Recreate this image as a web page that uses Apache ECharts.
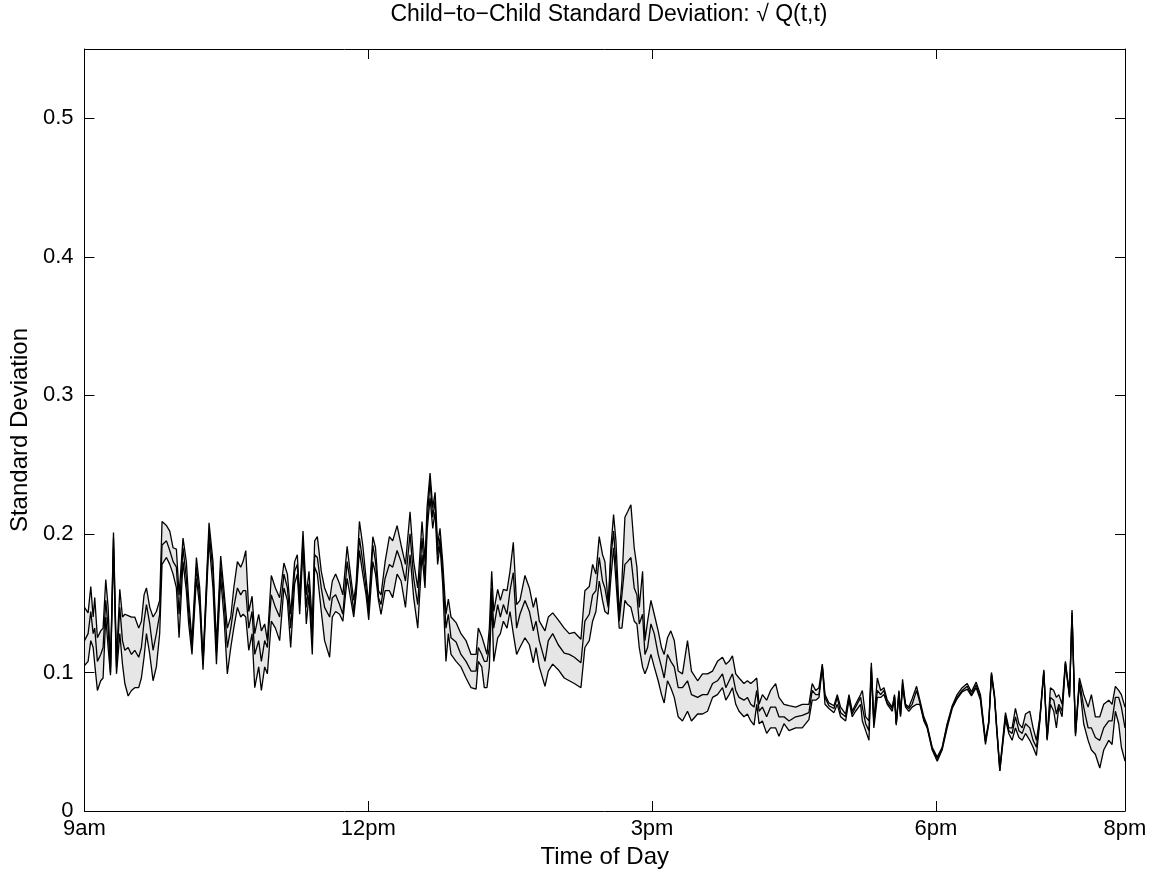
<!DOCTYPE html>
<html>
<head>
<meta charset="utf-8">
<title>Child-to-Child Standard Deviation</title>
<script src="https://cdn.jsdelivr.net/npm/echarts@6/dist/echarts.min.js"></script>
<style>
  html, body { margin: 0; padding: 0; background: #fff; }
  #chart { width: 1166px; height: 875px; }
</style>
</head>
<body>
<div id="chart"></div>
<script>
// minutes after 9am
const minutes = [
  0, 2.3, 4.0, 5.5, 6.5, 8.2, 10.3, 11.8, 13.5, 15.0, 16.5, 18.4, 20.3, 22.4, 24.1, 25.6, 27.7, 29.8, 31.9, 34.4, 36.1, 37.8, 39.3, 41.4, 43.5, 45.6, 47.7, 49.2, 52.0, 54.1, 56.2, 58.3, 60.0, 62.5, 64.6, 66.1, 68.2, 71.0, 73.1, 75.2, 79.0, 81.5,
  83.7, 86.4, 88.5, 90.6, 92.8, 94.7, 97.0, 99.1, 100.6, 102.3, 104.2, 106.3, 108.0, 110.5, 112.2, 114.3, 116.0, 118.5, 121.1, 123.8, 126.5, 128.7, 130.8, 133.3, 135.0, 136.5, 138.6, 140.7, 142.4, 144.5, 146.0, 147.7, 150.2, 152.3, 155.5, 157.2, 159.3, 161.8, 163.9,
  166.6, 168.7, 170.8, 172.3, 174.4, 176.5, 178.6, 180.3, 182.9, 184.6, 186.5, 188.1, 190.7, 193.4, 195.5, 198.3, 200.8, 203.6, 206.5, 208.8, 211.4, 214.1, 216.0, 217.3, 219.2, 220.9, 222.4, 224.0, 225.5, 227.2, 229.3, 230.8, 232.5, 235.7, 238.8, 242.0, 245.2,
  248.4, 249.8, 252.0, 253.6, 255.3, 256.8, 258.3, 259.6, 262.1, 263.8, 265.7, 268.0, 269.9, 272.0, 274.1, 276.2, 279.4, 282.2, 284.7, 286.4, 288.5, 292.1, 294.2, 297.0, 300.5, 304.3, 307.5, 310.7, 314.9, 317.4, 320.2, 322.3, 324.4, 326.5, 328.6,
  330.1, 332.2, 333.9, 335.6, 337.1, 339.2, 340.9, 342.8, 344.5, 346.6, 348.7, 350.4, 351.9, 354.0, 355.5, 357.2, 359.3, 361.4, 363.9, 366.0, 367.7, 369.8, 371.9, 374.1, 376.6, 379.3, 382.5, 385.0, 388.9, 392.0, 395.2, 398.4, 401.5, 404.7, 406.8, 408.9, 411.0,
  413.1, 415.2, 418.3, 420.5, 422.6, 424.7, 426.4, 427.9, 430.0, 432.7, 435.2, 438.4, 440.5, 443.7, 446.9, 451.1, 455.3, 459.5, 461.6, 463.8, 465.9, 468.0, 469.7, 472.2, 475.4, 477.5, 479.6, 482.8, 484.9, 487.0, 489.1, 492.3,
  493.4, 495.5, 497.6, 499.1, 500.7, 502.9, 505.0, 507.1, 509.2, 512.4, 513.8, 514.9, 516.6, 517.6, 518.9, 520.8, 522.9, 525.0, 527.8, 529.9, 532.4, 534.5, 537.7, 540.9, 544.0, 547.2, 550.4, 553.5, 556.7, 559.9, 562.6, 565.6, 568.3, 571.5, 573.6, 575.3,
  577.2, 578.5, 580.6, 584.2, 586.3, 588.4, 590.5, 592.7, 594.8, 596.9, 599.6, 601.7, 603.8, 606.0, 608.5, 610.6, 612.7, 614.8, 616.5, 618.0, 620.1, 622.2, 624.8, 626.4, 628.6, 631.1, 633.8, 636.6, 638.7, 641.2, 644.0, 646.5, 649.7, 651.8, 653.9, 656.0, 657.7, 660
]

const upper = [
  0.147, 0.143, 0.162, 0.140, 0.154, 0.125, 0.130, 0.132, 0.167, 0.147, 0.104, 0.201, 0.108, 0.160, 0.140, 0.142, 0.141, 0.140, 0.140, 0.132, 0.137, 0.156, 0.161, 0.147, 0.140, 0.144, 0.152, 0.209, 0.206, 0.202, 0.190, 0.189, 0.156, 0.197, 0.180, 0.152, 0.123, 0.183, 0.161, 0.108, 0.208, 0.180,
  0.120, 0.184, 0.159, 0.132, 0.140, 0.161, 0.180, 0.176, 0.180, 0.188, 0.144, 0.155, 0.128, 0.142, 0.130, 0.135, 0.123, 0.170, 0.161, 0.154, 0.179, 0.171, 0.142, 0.180, 0.185, 0.154, 0.202, 0.156, 0.173, 0.135, 0.195, 0.198, 0.173, 0.161, 0.152, 0.166, 0.171, 0.164, 0.156,
  0.191, 0.171, 0.152, 0.164, 0.209, 0.192, 0.168, 0.149, 0.198, 0.190, 0.159, 0.156, 0.180, 0.198, 0.195, 0.206, 0.192, 0.178, 0.216, 0.180, 0.161, 0.209, 0.180, 0.219, 0.244, 0.219, 0.230, 0.192, 0.204, 0.180, 0.142, 0.153, 0.140, 0.136, 0.128, 0.123, 0.113,
  0.113, 0.132, 0.126, 0.120, 0.113, 0.132, 0.173, 0.144, 0.160, 0.152, 0.160, 0.159, 0.173, 0.194, 0.149, 0.152, 0.170, 0.161, 0.147, 0.154, 0.137, 0.130, 0.140, 0.143, 0.138, 0.132, 0.128, 0.129, 0.124, 0.159, 0.162, 0.178, 0.171, 0.198, 0.185,
  0.180, 0.149, 0.190, 0.214, 0.195, 0.142, 0.166, 0.212, 0.216, 0.221, 0.190, 0.176, 0.147, 0.173, 0.123, 0.137, 0.152, 0.142, 0.130, 0.118, 0.113, 0.125, 0.130, 0.123, 0.101, 0.099, 0.123, 0.101, 0.094, 0.099, 0.099, 0.101, 0.108, 0.111, 0.106, 0.108, 0.112,
  0.099, 0.096, 0.092, 0.094, 0.092, 0.094, 0.096, 0.077, 0.084, 0.080, 0.087, 0.092, 0.082, 0.077, 0.076, 0.075, 0.077, 0.077, 0.092, 0.087, 0.089, 0.106, 0.084, 0.078, 0.076, 0.084, 0.075, 0.070, 0.084, 0.072, 0.077, 0.084,
  0.087, 0.068, 0.065, 0.107, 0.065, 0.096, 0.087, 0.089, 0.080, 0.075, 0.084, 0.063, 0.087, 0.070, 0.095, 0.077, 0.075, 0.081, 0.090, 0.080, 0.068, 0.062, 0.046, 0.039, 0.046, 0.063, 0.076, 0.084, 0.089, 0.092, 0.086, 0.093, 0.084, 0.051, 0.065, 0.100,
  0.084, 0.063, 0.031, 0.071, 0.060, 0.060, 0.074, 0.063, 0.060, 0.070, 0.072, 0.060, 0.051, 0.068, 0.102, 0.053, 0.089, 0.087, 0.082, 0.084, 0.077, 0.108, 0.084, 0.145, 0.056, 0.096, 0.084, 0.075, 0.084, 0.068, 0.068, 0.077, 0.080, 0.077, 0.090, 0.087, 0.084, 0.075
]

const middle = [
  0.123, 0.128, 0.144, 0.128, 0.132, 0.108, 0.113, 0.118, 0.152, 0.132, 0.100, 0.197, 0.104, 0.147, 0.123, 0.116, 0.118, 0.113, 0.116, 0.111, 0.118, 0.137, 0.149, 0.135, 0.116, 0.128, 0.142, 0.192, 0.195, 0.188, 0.180, 0.176, 0.142, 0.190, 0.168, 0.144, 0.118, 0.176, 0.154, 0.106, 0.202, 0.173,
  0.115, 0.176, 0.152, 0.118, 0.132, 0.147, 0.161, 0.156, 0.159, 0.159, 0.132, 0.144, 0.113, 0.123, 0.108, 0.123, 0.118, 0.156, 0.147, 0.140, 0.171, 0.161, 0.132, 0.173, 0.178, 0.149, 0.195, 0.147, 0.164, 0.123, 0.185, 0.183, 0.161, 0.147, 0.140, 0.154, 0.156, 0.149, 0.142,
  0.180, 0.164, 0.144, 0.161, 0.197, 0.180, 0.161, 0.144, 0.192, 0.180, 0.154, 0.149, 0.168, 0.178, 0.176, 0.188, 0.180, 0.166, 0.200, 0.168, 0.149, 0.197, 0.168, 0.209, 0.238, 0.212, 0.224, 0.185, 0.197, 0.173, 0.132, 0.142, 0.125, 0.122, 0.113, 0.108, 0.101,
  0.101, 0.118, 0.113, 0.108, 0.108, 0.118, 0.161, 0.132, 0.149, 0.140, 0.149, 0.142, 0.159, 0.172, 0.132, 0.142, 0.152, 0.144, 0.130, 0.137, 0.123, 0.108, 0.123, 0.128, 0.120, 0.114, 0.113, 0.111, 0.107, 0.137, 0.142, 0.156, 0.159, 0.183, 0.166,
  0.161, 0.147, 0.183, 0.202, 0.178, 0.137, 0.156, 0.178, 0.180, 0.183, 0.161, 0.156, 0.135, 0.142, 0.113, 0.118, 0.135, 0.128, 0.113, 0.104, 0.096, 0.113, 0.108, 0.104, 0.089, 0.089, 0.094, 0.084, 0.082, 0.084, 0.084, 0.092, 0.094, 0.099, 0.089, 0.094, 0.099,
  0.087, 0.082, 0.080, 0.082, 0.077, 0.075, 0.087, 0.072, 0.075, 0.068, 0.075, 0.075, 0.068, 0.068, 0.065, 0.068, 0.069, 0.071, 0.087, 0.084, 0.084, 0.105, 0.082, 0.076, 0.074, 0.082, 0.071, 0.068, 0.082, 0.070, 0.075, 0.082,
  0.075, 0.063, 0.058, 0.104, 0.063, 0.087, 0.084, 0.087, 0.078, 0.074, 0.083, 0.063, 0.086, 0.069, 0.092, 0.076, 0.074, 0.077, 0.087, 0.078, 0.066, 0.061, 0.045, 0.038, 0.045, 0.062, 0.075, 0.082, 0.087, 0.090, 0.084, 0.091, 0.082, 0.050, 0.064, 0.099,
  0.083, 0.062, 0.029, 0.069, 0.058, 0.056, 0.068, 0.058, 0.056, 0.063, 0.060, 0.051, 0.046, 0.066, 0.101, 0.052, 0.082, 0.080, 0.070, 0.077, 0.072, 0.107, 0.083, 0.143, 0.056, 0.094, 0.075, 0.060, 0.060, 0.053, 0.051, 0.060, 0.065, 0.065, 0.082, 0.082, 0.075, 0.060
]

const lower = [
  0.105, 0.108, 0.123, 0.118, 0.106, 0.087, 0.094, 0.096, 0.140, 0.118, 0.098, 0.190, 0.099, 0.128, 0.106, 0.092, 0.083, 0.087, 0.089, 0.089, 0.096, 0.111, 0.128, 0.113, 0.094, 0.104, 0.128, 0.178, 0.183, 0.178, 0.171, 0.161, 0.125, 0.180, 0.159, 0.135, 0.113, 0.168, 0.147, 0.102, 0.195, 0.161,
  0.106, 0.168, 0.140, 0.099, 0.118, 0.132, 0.147, 0.140, 0.142, 0.140, 0.116, 0.128, 0.089, 0.104, 0.087, 0.104, 0.099, 0.137, 0.132, 0.123, 0.161, 0.152, 0.118, 0.164, 0.171, 0.142, 0.190, 0.135, 0.156, 0.113, 0.176, 0.171, 0.144, 0.123, 0.111, 0.140, 0.144, 0.142, 0.137,
  0.168, 0.154, 0.140, 0.156, 0.188, 0.171, 0.156, 0.138, 0.180, 0.171, 0.152, 0.142, 0.159, 0.159, 0.154, 0.171, 0.166, 0.147, 0.185, 0.154, 0.132, 0.185, 0.161, 0.202, 0.226, 0.204, 0.216, 0.178, 0.192, 0.164, 0.108, 0.128, 0.113, 0.108, 0.104, 0.096, 0.089,
  0.088, 0.108, 0.104, 0.089, 0.089, 0.104, 0.152, 0.108, 0.125, 0.128, 0.137, 0.132, 0.144, 0.128, 0.113, 0.118, 0.125, 0.120, 0.107, 0.118, 0.104, 0.090, 0.101, 0.106, 0.102, 0.096, 0.094, 0.092, 0.089, 0.118, 0.123, 0.137, 0.144, 0.166, 0.152,
  0.144, 0.142, 0.168, 0.190, 0.166, 0.132, 0.132, 0.152, 0.149, 0.147, 0.137, 0.135, 0.118, 0.104, 0.099, 0.104, 0.113, 0.104, 0.094, 0.084, 0.078, 0.094, 0.089, 0.082, 0.068, 0.065, 0.072, 0.065, 0.070, 0.070, 0.072, 0.082, 0.084, 0.089, 0.080, 0.084, 0.089,
  0.077, 0.072, 0.068, 0.070, 0.065, 0.062, 0.077, 0.063, 0.065, 0.056, 0.060, 0.060, 0.054, 0.063, 0.058, 0.060, 0.060, 0.066, 0.080, 0.080, 0.082, 0.104, 0.077, 0.074, 0.071, 0.077, 0.068, 0.065, 0.080, 0.068, 0.072, 0.077,
  0.065, 0.058, 0.051, 0.101, 0.060, 0.082, 0.082, 0.084, 0.077, 0.072, 0.082, 0.062, 0.084, 0.068, 0.089, 0.075, 0.072, 0.075, 0.077, 0.077, 0.065, 0.060, 0.044, 0.036, 0.044, 0.060, 0.074, 0.081, 0.086, 0.088, 0.083, 0.089, 0.080, 0.048, 0.063, 0.098,
  0.082, 0.060, 0.029, 0.066, 0.056, 0.051, 0.060, 0.053, 0.051, 0.056, 0.051, 0.046, 0.040, 0.065, 0.100, 0.051, 0.077, 0.072, 0.060, 0.075, 0.068, 0.106, 0.082, 0.141, 0.054, 0.092, 0.063, 0.051, 0.044, 0.041, 0.031, 0.044, 0.051, 0.048, 0.072, 0.063, 0.046, 0.036
]

const xTicks = [0, 180, 360, 540, 660]
const xTickLabels = ["9am", "12pm", "3pm", "6pm", "8pm"]
const yTicks = [0, 0.1, 0.2, 0.3, 0.4, 0.5]

const font = "'Liberation Sans', Arial, Helvetica, sans-serif"

const pairs = (vals) => minutes.map((m, i) => [m, vals[i]])

// box frame, ticks pointing inward on all four sides
const tick = (vals) => ({ show: true, inside: true, length: 10, customValues: vals, lineStyle: { color: "#000", width: 1 } })
const frameAxis = {
  z: 10,
  axisLine: { show: true, onZero: false, lineStyle: { color: "#000", width: 1 } },
  splitLine: { show: false }
}

const chart = echarts.init(document.getElementById("chart"))
chart.setOption({
  animation: false,
  backgroundColor: "#fff",
  title: {
    text: "Child\u2212to\u2212Child Standard Deviation: \u221A Q(t,t)",
    left: 604,
    textAlign: "center",
    top: -2,
    textStyle: { fontFamily: font, fontSize: 23, fontWeight: "normal", color: "#000" }
  },
  grid: { left: 83, right: 41, top: 49, bottom: 64 },
  xAxis: [
    {
      ...frameAxis,
      type: "value",
      min: 0,
      max: 660,
      position: "bottom",
      name: "Time of Day",
      nameLocation: "middle",
      nameGap: 31,
      nameTextStyle: { fontFamily: font, fontSize: 24, color: "#000" },
      axisTick: tick(xTicks),
      axisLabel: {
        customValues: xTicks,
        margin: 7,
        fontFamily: font,
        fontSize: 22,
        color: "#000",
        formatter: (v) => xTickLabels[xTicks.indexOf(Math.round(v))]
      }
    },
    {
      ...frameAxis,
      type: "value",
      min: 0,
      max: 660,
      position: "top",
      axisTick: tick(xTicks),
      axisLabel: { show: false }
    }
  ],
  yAxis: [
    {
      ...frameAxis,
      type: "value",
      min: 0,
      max: 0.55,
      position: "left",
      name: "Standard Deviation",
      nameLocation: "middle",
      nameGap: 46,
      nameRotate: 90,
      nameTextStyle: { fontFamily: font, fontSize: 24, color: "#000" },
      axisTick: tick(yTicks),
      axisLabel: {
        customValues: yTicks,
        margin: 11,
        fontFamily: font,
        fontSize: 22,
        color: "#000",
        formatter: (v) => (v === 0 ? "0" : v.toFixed(1))
      }
    },
    {
      ...frameAxis,
      type: "value",
      min: 0,
      max: 0.55,
      position: "right",
      axisTick: tick(yTicks),
      axisLabel: { show: false }
    }
  ],
  series: [
    // grey band: fill under the upper bound, then blank out under the lower bound
    {
      name: "bandTop",
      type: "line",
      data: pairs(upper),
      symbol: "none",
      silent: true,
      lineStyle: { width: 0, opacity: 0 },
      areaStyle: { color: "#e6e6e6", opacity: 1, origin: "start" },
      z: 1
    },
    {
      name: "bandBottom",
      type: "line",
      data: pairs(lower),
      symbol: "none",
      silent: true,
      lineStyle: { width: 0, opacity: 0 },
      areaStyle: { color: "#ffffff", opacity: 1, origin: "start" },
      z: 2
    },
    {
      name: "upper",
      type: "line",
      data: pairs(upper),
      symbol: "none",
      lineStyle: { color: "#000", width: 1.3 },
      z: 3
    },
    {
      name: "middle",
      type: "line",
      data: pairs(middle),
      symbol: "none",
      lineStyle: { color: "#000", width: 1.3 },
      z: 3
    },
    {
      name: "lower",
      type: "line",
      data: pairs(lower),
      symbol: "none",
      lineStyle: { color: "#000", width: 1.3 },
      z: 3
    }
  ]
})
</script>
</body>
</html>
